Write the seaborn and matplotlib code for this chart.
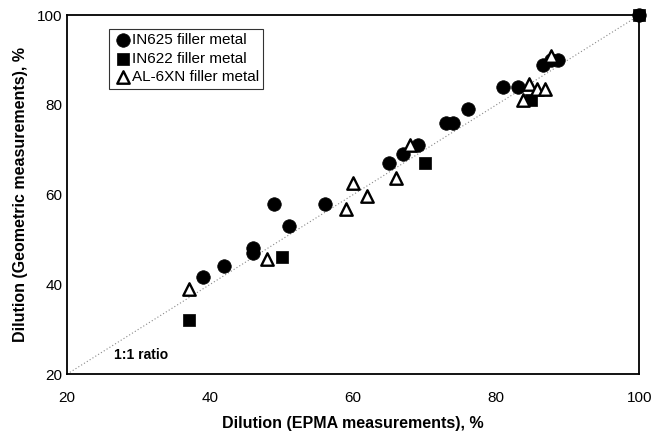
import matplotlib
matplotlib.use("Agg")
import matplotlib.pyplot as plt
import seaborn as sns
import pandas as pd

in625_x = [39, 42, 46, 46, 49, 51, 56, 65, 67, 69, 73, 74, 76, 81, 83, 86.6, 87.6, 88.7, 100]
in625_y = [41.6, 44, 48, 47, 58, 53, 58, 67, 69, 71, 76, 76, 79, 84, 84, 89, 90, 90, 100]
in622_x = [37, 50, 70, 84.8, 100]
in622_y = [32, 46, 67, 81, 100]
al6xn_x = [37, 48, 59, 60, 62, 66, 68, 83.7, 84.6, 85.7, 86.8, 87.7]
al6xn_y = [39, 45.6, 56.7, 62.7, 59.6, 63.7, 71, 81, 84.7, 83.5, 83.5, 91]

labels = ["IN625 filler metal", "IN622 filler metal", "AL-6XN filler metal"]
ticks = [20, 40, 60, 80, 100]

df = pd.concat([
    pd.DataFrame({"x": in625_x, "y": in625_y, "s": labels[0]}),
    pd.DataFrame({"x": in622_x, "y": in622_y, "s": labels[1]}),
    pd.DataFrame({"x": al6xn_x, "y": al6xn_y, "s": labels[2]}),
])

sns.set_style("white", {"text.color": "black", "axes.labelcolor": "black",
                        "xtick.color": "black", "ytick.color": "black"})
plt.rcParams['font.family'] = ['Liberation Sans', 'DejaVu Sans']

fig = plt.figure(figsize=(6.51, 4.34), dpi=100)
ax = fig.add_axes([0.103, 0.138, 0.879, 0.827])

ax.plot([20, 100], [20, 100], linestyle=(0, (1, 2)), color="#888888", linewidth=0.8, zorder=1)

sizes = {"o": 95, "s": 72, "^": 80}
for lab, mk, fc in zip(labels, ["o", "s", "^"], ["black", "black", "white"]):
    sub = df[df.s == lab]
    sns.scatterplot(data=sub, x="x", y="y", marker=mk, s=sizes[mk],
                    color=fc, edgecolor="black", linewidth=1.7 if mk == "^" else 0.5,
                    ax=ax, label=lab, zorder=3, clip_on=False)

ax.set_xlim(20, 100)
ax.set_ylim(20, 100)
ax.set_xticks(ticks)
ax.set_yticks(ticks)
ax.tick_params(axis="both", labelsize=11, length=3, direction="in", width=1, colors="black")
ax.tick_params(axis="x", pad=12)
ax.set_xlabel("Dilution (EPMA measurements), %", fontsize=11.5, fontweight="bold", labelpad=8, color="black")
ax.set_ylabel("Dilution (Geometric measurements), %", fontsize=11.5, fontweight="bold", labelpad=6, color="black")
for sp in ax.spines.values():
    sp.set_color("black")
    sp.set_linewidth(1.3)

ax.text(26.5, 24.2, "1:1 ratio", fontsize=10, fontweight="bold", va="center", color="black")

leg = ax.legend(loc="upper left", bbox_to_anchor=(0.065, 0.975), frameon=True, fancybox=False,
                edgecolor="black", fontsize=11, handletextpad=0.0, labelspacing=0.3,
                borderpad=0.3, handlelength=1.2, borderaxespad=0.3)
leg.get_frame().set_linewidth(0.8)
for t in leg.get_texts():
    t.set_color("black")

fig.savefig("out.png", dpi=100)
